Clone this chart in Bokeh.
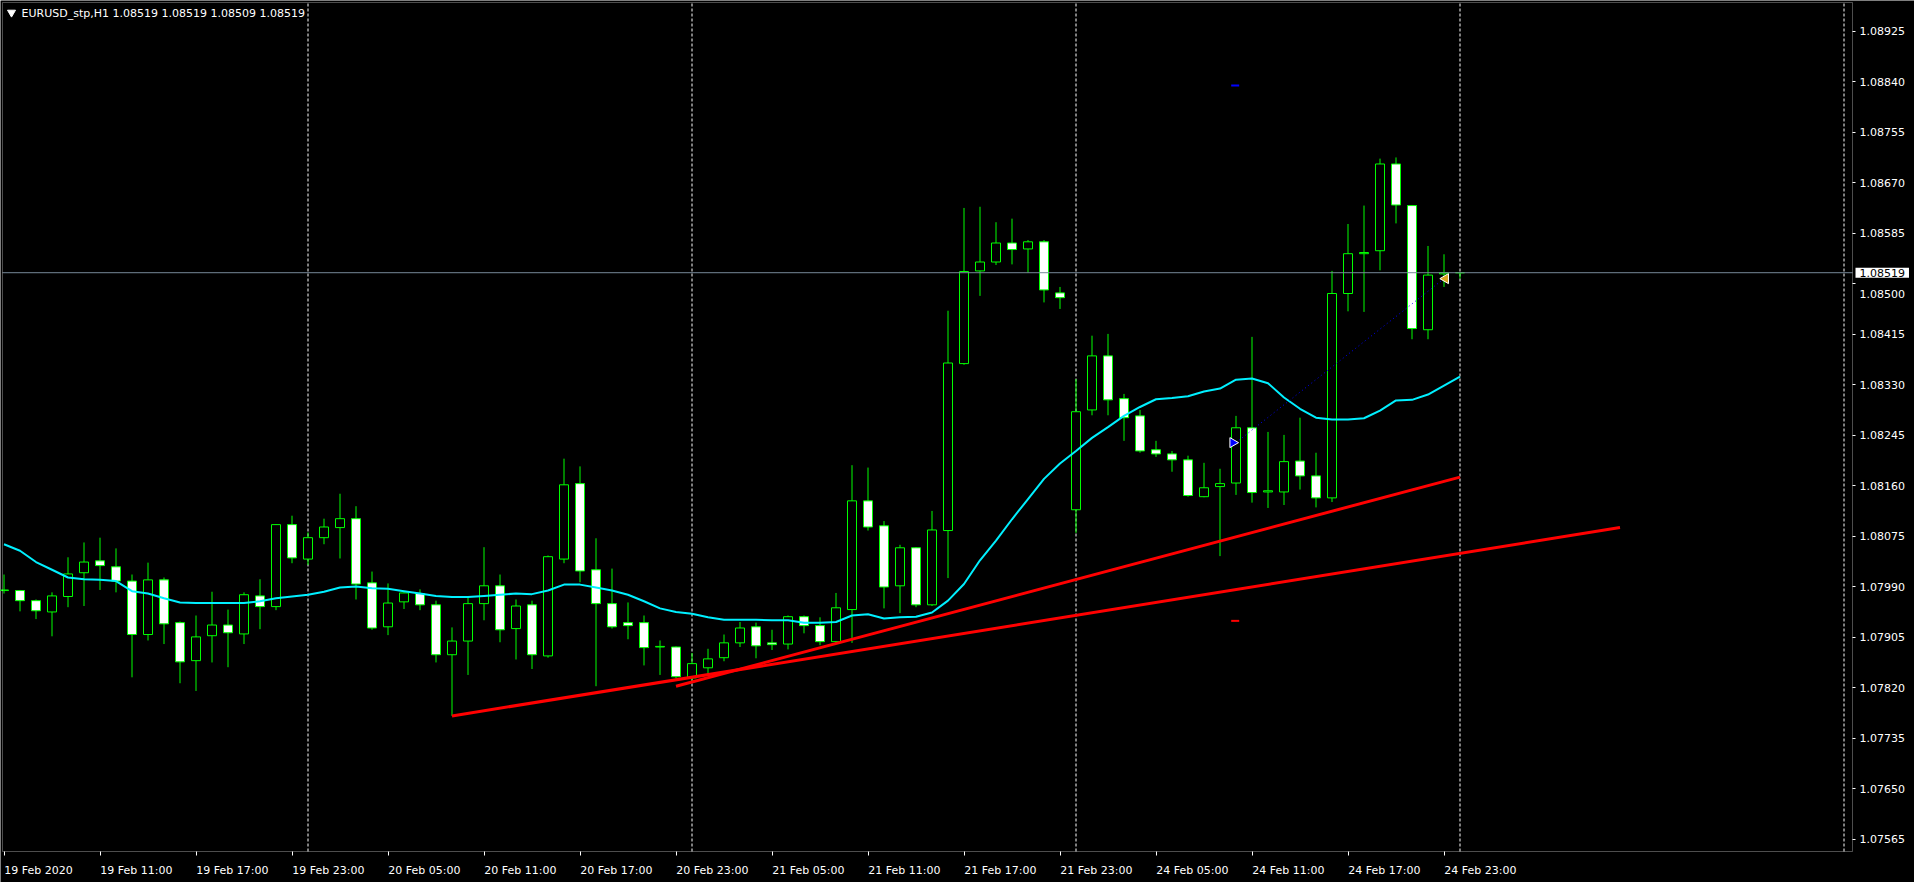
import math
from bokeh.plotting import figure
from bokeh.models import (Range1d, FixedTicker, PrintfTickFormatter, Label, ColumnDataSource,
                          LinearAxis, BoxAnnotation)
from bokeh.embed import file_html
from bokeh.resources import INLINE

# ---------------- data (EURUSD_stp, H1; bar 0 = 19 Feb 2020 05:00) ----------------
title_text = "EURUSD_stp,H1  1.08519 1.08519 1.08509 1.08519"

bar_open = [1.07984, 1.07984, 1.07967, 1.07948, 1.07974, 1.08014, 1.08034, 1.08024, 1.08000, 1.07910,
            1.08002, 1.07930, 1.07866, 1.07908, 1.07926, 1.07911, 1.07975, 1.07957, 1.08095, 1.08037,
            1.08073, 1.08090, 1.08105, 1.07997, 1.07923, 1.07965, 1.07979, 1.07960, 1.07876, 1.07899,
            1.07962, 1.07992, 1.07920, 1.07960, 1.07874, 1.08037, 1.08164, 1.08019, 1.07962, 1.07930,
            1.07930, 1.07889, 1.07889, 1.07837, 1.07854, 1.07871, 1.07896, 1.07923, 1.07896, 1.07894,
            1.07940, 1.07925, 1.07898, 1.07952, 1.08135, 1.08093, 1.07992, 1.08056, 1.07960, 1.08085,
            1.08366, 1.08522, 1.08537, 1.08569, 1.08559, 1.08571, 1.08485, 1.08120, 1.08288, 1.08379,
            1.08307, 1.08278, 1.08221, 1.08214, 1.08204, 1.08142, 1.08159, 1.08165, 1.08258, 1.08150,
            1.08150, 1.08202, 1.08177, 1.08140, 1.08484, 1.08551, 1.08556, 1.08702, 1.08632, 1.08423,
            1.08517, 1.08519]
bar_high = [1.08011, 1.07985, 1.07969, 1.07981, 1.08040, 1.08065, 1.08073, 1.08055, 1.08011, 1.08031,
            1.08006, 1.07932, 1.07942, 1.07982, 1.07952, 1.07981, 1.08003, 1.08096, 1.08110, 1.08082,
            1.08105, 1.08147, 1.08126, 1.08016, 1.07996, 1.07981, 1.07986, 1.07967, 1.07922, 1.07972,
            1.08057, 1.08011, 1.07969, 1.07967, 1.08043, 1.08206, 1.08193, 1.08072, 1.08021, 1.07964,
            1.07942, 1.07900, 1.07890, 1.07879, 1.07886, 1.07910, 1.07931, 1.07930, 1.07918, 1.07942,
            1.07942, 1.07939, 1.07980, 1.08195, 1.08191, 1.08101, 1.08061, 1.08057, 1.08118, 1.08455,
            1.08628, 1.08630, 1.08604, 1.08610, 1.08574, 1.08574, 1.08495, 1.08340, 1.08413, 1.08416,
            1.08315, 1.08288, 1.08236, 1.08219, 1.08211, 1.08199, 1.08189, 1.08278, 1.08411, 1.08251,
            1.08246, 1.08275, 1.08216, 1.08522, 1.08601, 1.08632, 1.08711, 1.08713, 1.08633, 1.08564,
            1.08550, 1.08519]
bar_low = [1.07979, 1.07949, 1.07936, 1.07907, 1.07956, 1.07958, 1.07985, 1.07981, 1.07838, 1.07900,
           1.07894, 1.07828, 1.07815, 1.07863, 1.07855, 1.07894, 1.07919, 1.07951, 1.08030, 1.08027,
           1.08062, 1.08038, 1.07969, 1.07918, 1.07909, 1.07953, 1.07951, 1.07863, 1.07773, 1.07842,
           1.07934, 1.07897, 1.07868, 1.07852, 1.07871, 1.08030, 1.07998, 1.07823, 1.07920, 1.07902,
           1.07858, 1.07842, 1.07836, 1.07831, 1.07844, 1.07865, 1.07889, 1.07870, 1.07884, 1.07885,
           1.07912, 1.07892, 1.07894, 1.07896, 1.08085, 1.07954, 1.07946, 1.07956, 1.07958, 1.08005,
           1.08364, 1.08480, 1.08532, 1.08533, 1.08519, 1.08469, 1.08458, 1.08081, 1.08279, 1.08279,
           1.08236, 1.08216, 1.08209, 1.08184, 1.08142, 1.08141, 1.08042, 1.08145, 1.08132, 1.08123,
           1.08128, 1.08154, 1.08124, 1.08133, 1.08454, 1.08453, 1.08523, 1.08602, 1.08407, 1.08407,
           1.08495, 1.08509]
bar_close = [1.07985, 1.07967, 1.07950, 1.07975, 1.08012, 1.08032, 1.08026, 1.08000, 1.07910, 1.08002,
             1.07928, 1.07864, 1.07906, 1.07926, 1.07913, 1.07977, 1.07957, 1.08095, 1.08039, 1.08073,
             1.08091, 1.08105, 1.07995, 1.07921, 1.07963, 1.07980, 1.07960, 1.07876, 1.07899, 1.07962,
             1.07992, 1.07918, 1.07958, 1.07876, 1.08041, 1.08162, 1.08017, 1.07962, 1.07923, 1.07925,
             1.07888, 1.07890, 1.07839, 1.07861, 1.07869, 1.07896, 1.07921, 1.07891, 1.07893, 1.07940,
             1.07925, 1.07898, 1.07955, 1.08135, 1.08091, 1.07990, 1.08056, 1.07960, 1.08086, 1.08367,
             1.08521, 1.08537, 1.08569, 1.08558, 1.08571, 1.08490, 1.08477, 1.08285, 1.08379, 1.08305,
             1.08275, 1.08219, 1.08214, 1.08204, 1.08144, 1.08157, 1.08164, 1.08258, 1.08149, 1.08152,
             1.08201, 1.08177, 1.08140, 1.08484, 1.08551, 1.08553, 1.08702, 1.08633, 1.08425, 1.08515,
             1.08519, 1.08519]
moving_avg = [1.08062, 1.08051, 1.08032, 1.08019, 1.08006, 1.08003, 1.08002, 1.08000, 1.07983, 1.07979,
              1.07971, 1.07964, 1.07963, 1.07963, 1.07963, 1.07963, 1.07966, 1.07971, 1.07974, 1.07977,
              1.07982, 1.07989, 1.07991, 1.07988, 1.07987, 1.07983, 1.07979, 1.07975, 1.07973, 1.07973,
              1.07975, 1.07977, 1.07979, 1.07978, 1.07984, 1.07994, 1.07994, 1.07989, 1.07984, 1.07977,
              1.07966, 1.07954, 1.07948, 1.07945, 1.07939, 1.07935, 1.07935, 1.07935, 1.07934, 1.07934,
              1.07930, 1.07930, 1.07931, 1.07942, 1.07944, 1.07937, 1.07939, 1.07940, 1.07947, 1.07967,
              1.07995, 1.08035, 1.08068, 1.08104, 1.08138, 1.08172, 1.08198, 1.08219, 1.08241, 1.08259,
              1.08278, 1.08293, 1.08306, 1.08308, 1.08311, 1.08319, 1.08324, 1.08339, 1.08341, 1.08333,
              1.08309, 1.08290, 1.08275, 1.08272, 1.08272, 1.08274, 1.08287, 1.08304, 1.08305, 1.08314,
              1.08329, 1.08344]

x_tick_bars = [0, 6, 12, 18, 24, 30, 36, 42, 48, 54, 60, 66, 72, 78, 84, 90]
x_tick_labels = ["19 Feb 2020", "19 Feb 11:00", "19 Feb 17:00", "19 Feb 23:00",
                 "20 Feb 05:00", "20 Feb 11:00", "20 Feb 17:00", "20 Feb 23:00",
                 "21 Feb 05:00", "21 Feb 11:00", "21 Feb 17:00", "21 Feb 23:00",
                 "24 Feb 05:00", "24 Feb 11:00", "24 Feb 17:00", "24 Feb 23:00"]
y_ticks = [1.07565, 1.0765, 1.07735, 1.0782, 1.07905, 1.0799, 1.08075, 1.0816, 1.08245,
           1.0833, 1.08415, 1.085, 1.08585, 1.0867, 1.08755, 1.0884, 1.08925]
day_separator_bars = [19, 43, 67, 91, 115]
current_price = 1.08519

trend_a_bars = [28, 101]
trend_a_prices = [1.07773, 1.08090]
trend_b_bars = [42, 91]
trend_b_prices = [1.07823, 1.08175]

trade_bars = [77, 90]
trade_prices = [1.08233, 1.08509]
take_profit = 1.08834
stop_loss = 1.07933

# ---------------- geometry (page pixels) ----------------
FIG_W, FIG_H = 1914, 882
CH_L, CH_T, CH_R, CH_B = 2, 2, 1852, 851          # chart window inside the canvas
BAR_PX = 16.0
BAR0_PX = 3.5                                      # page x of bar 0
P_TOP, P_BOT = 1.089738, 1.075448                  # prices at chart top / bottom edge
PX_PER_PRICE = (CH_B - CH_T) / (P_TOP - P_BOT)

def xd(page_px):
    return (page_px - BAR0_PX) / BAR_PX

def yd(page_py):
    return P_TOP - (page_py - CH_T) / PX_PER_PRICE

FONT = "DejaVu Sans"
FS = "11px"
LIME = "#00FF00"

p = figure(width=FIG_W, height=FIG_H,
           x_range=Range1d(xd(0), xd(FIG_W)), y_range=Range1d(yd(FIG_H), yd(0)),
           output_backend="svg", toolbar_location=None, y_axis_location="right",
           background_fill_color="black", border_fill_color="black", outline_line_color=None,
           min_border_left=0, min_border_top=0, min_border_right=0, min_border_bottom=0)
p.grid.visible = False

cx0, cx1, cy0, cy1 = xd(CH_L), xd(CH_R), yd(CH_B), yd(CH_T)

# chart window border
p.add_layout(BoxAnnotation(left=cx0, right=cx1, bottom=cy0, top=cy1, fill_color=None,
                           line_color="white", line_width=1, level="overlay"))

# ---- y axis (right edge of the chart window) ----
ya = p.yaxis[0]
ya.fixed_location = cx1
ya.ticker = FixedTicker(ticks=y_ticks)
ya.formatter = PrintfTickFormatter(format="%.5f")
ya.major_label_overrides = {1.085: ""}
ya.major_tick_out = 3
ya.major_tick_in = 0
ya.minor_tick_line_color = None
ya.axis_line_color = None
ya.major_tick_line_color = "white"
ya.major_label_text_color = "white"
ya.major_label_text_font = FONT
ya.major_label_text_font_size = FS
ya.major_label_standoff = 4

# 1.08500 label pushed below the price box (as MT4 does)
p.add_layout(Label(x=xd(1859), y=yd(293), text="%.5f" % 1.085, text_color="white", text_font=FONT,
                   text_font_size=FS, text_align="left", text_baseline="middle"))
# current price box
p.add_layout(Label(x=xd(1855), y=current_price, text="%.5f" % current_price, text_color="black",
                   text_font=FONT, text_font_size=FS, text_align="left", text_baseline="middle",
                   background_fill_color="white", padding=(4, 1)))

# ---- x axis (bottom edge of the chart window): tick marks ----
xa = p.xaxis[0]
xa.fixed_location = cy0
xa.ticker = FixedTicker(ticks=x_tick_bars)
xa.major_label_overrides = {b: "" for b in x_tick_bars}
xa.major_label_text_font_size = "0px"
xa.major_tick_out = 4
xa.major_tick_in = 0
xa.minor_tick_line_color = None
xa.axis_line_color = None
xa.major_tick_line_color = "white"

# x labels, left aligned at their tick (MT4 style): label centre = tick + half its width
def text_width_px(s):
    em = {" ": 0.318, "F": 0.575, "e": 0.615, "b": 0.635, ":": 0.337}
    return sum(em.get(ch, 0.636) for ch in s) * 11.0

label_pos = [b + text_width_px(t) / 2.0 / BAR_PX for b, t in zip(x_tick_bars, x_tick_labels)]
xa2 = LinearAxis(fixed_location=cy0, ticker=FixedTicker(ticks=label_pos),
                 major_label_overrides={pos: t for pos, t in zip(label_pos, x_tick_labels)})
xa2.axis_line_color = None
xa2.major_tick_line_color = None
xa2.minor_tick_line_color = None
xa2.major_tick_out = 0
xa2.major_label_standoff = 12
xa2.major_label_text_color = "white"
xa2.major_label_text_font = FONT
xa2.major_label_text_font_size = FS
p.add_layout(xa2, "below")

# ---- day separators ----
p.segment(x0=day_separator_bars, y0=[cy0] * len(day_separator_bars),
          x1=day_separator_bars, y1=[cy1] * len(day_separator_bars),
          line_color="white", line_width=1, line_dash="3 2", level="underlay")

# ---- candles ----
xs = list(range(len(bar_open)))
tops = [max(o, c) for o, c in zip(bar_open, bar_close)]
bots = [min(o, c) for o, c in zip(bar_open, bar_close)]
fills = ["black" if c >= o else "white" for o, c in zip(bar_open, bar_close)]
src = ColumnDataSource(dict(x=xs, high=bar_high, low=bar_low, top=tops, bottom=bots, fill=fills))
p.segment(x0="x", y0="low", x1="x", y1="high", source=src, line_color=LIME, line_width=1)
p.vbar(x="x", width=0.5625, top="top", bottom="bottom", source=src,
       fill_color="fill", line_color=LIME, line_width=1)

# ---- moving average ----
p.line(xs, moving_avg, line_color="#00F0FF", line_width=2)

# ---- trend lines ----
p.line(trend_a_bars, trend_a_prices, line_color="#FF0000", line_width=3)
p.line(trend_b_bars, trend_b_prices, line_color="#FF0000", line_width=3)

# ---- trade history ----
p.line(trade_bars, trade_prices, line_color="#0000FF", line_width=1, line_dash="1 3")
p.scatter([trade_bars[0] - 0.2], [trade_prices[0]], marker="triangle", angle=-math.pi / 2,
          size=10, fill_color="#0000FF", line_color="white", line_width=1)
p.scatter([trade_bars[1] + 0.1], [trade_prices[1]], marker="triangle", angle=math.pi / 2,
          size=10, fill_color="#DAA520", line_color="white", line_width=1)
p.scatter([trade_bars[0] - 0.05], [take_profit], marker="dash", size=8, line_color="#0000FF", line_width=2)
p.scatter([trade_bars[0] - 0.05], [stop_loss], marker="dash", size=8, line_color="#FF0000", line_width=2)

# ---- current price line (across the chart window) ----
p.segment(x0=[cx0], y0=[current_price], x1=[cx1], y1=[current_price], line_color="#778899", line_width=1)

# ---- title ----
p.scatter([xd(11)], [yd(12)], marker="inverted_triangle", size=8, fill_color="white", line_color="white")
p.add_layout(Label(x=xd(21), y=yd(12.5), text=title_text, text_color="white", text_font=FONT,
                   text_font_size=FS, text_align="left", text_baseline="middle"))

open("out.html", "w").write(file_html(p, INLINE))
